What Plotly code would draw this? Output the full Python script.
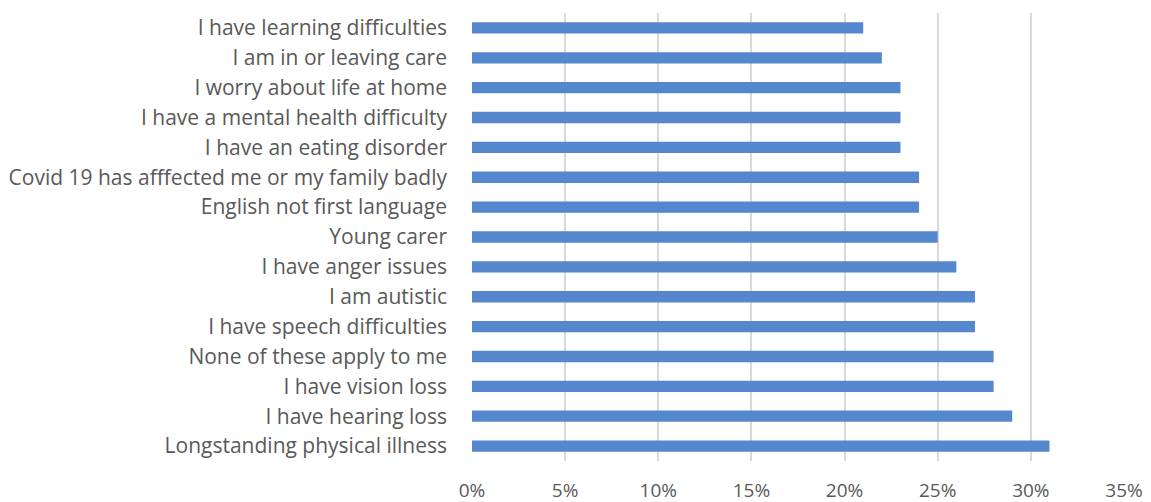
import plotly.graph_objects as go

# Survey responses, listed top to bottom as displayed
categories = [
    "I have learning difficulties",
    "I am in or leaving care",
    "I worry about life at home",
    "I have a mental health difficulty",
    "I have an eating disorder",
    "Covid 19 has afffected me or my family badly",
    "English not first language",
    "Young carer",
    "I have anger issues",
    "I am autistic",
    "I have speech difficulties",
    "None of these apply to me",
    "I have vision loss",
    "I have hearing loss",
    "Longstanding physical illness",
]
shares = [0.21, 0.22, 0.23, 0.23, 0.23, 0.24, 0.24, 0.25, 0.26, 0.27, 0.27, 0.28, 0.28, 0.29, 0.31]

tick_values = [0, 0.05, 0.10, 0.15, 0.20, 0.25, 0.30, 0.35]
tick_labels = ["0%", "5%", "10%", "15%", "20%", "25%", "30%", "35%"]

text_color = "#595959"
font_family = "Open Sans, Noto Sans, sans-serif"

fig = go.Figure(
    go.Bar(
        x=shares,
        y=categories,
        orientation="h",
        marker=dict(color="#5587cf", line=dict(width=0)),
        hoverinfo="x+y",
    )
)

fig.update_layout(
    width=1151,
    height=502,
    margin=dict(l=472, r=27, t=13, b=41, autoexpand=False),
    paper_bgcolor="white",
    plot_bgcolor="white",
    bargap=0.62,
    showlegend=False,
    font=dict(family=font_family, size=19, color=text_color),
)

fig.update_xaxes(
    range=[0, 0.35],
    tickvals=tick_values,
    ticktext=tick_labels,
    showgrid=True,
    gridcolor="#d9d9d9",
    gridwidth=2,
    zeroline=False,
    showline=False,
    ticks="",
    automargin=False,
    ticklabelstandoff=16,
    tickfont=dict(family=font_family, size=19, color=text_color),
)

fig.update_yaxes(
    autorange="reversed",
    showgrid=False,
    zeroline=False,
    showline=False,
    ticks="",
    automargin=False,
    ticklabelstandoff=24,
    tickfont=dict(family=font_family, size=21, color=text_color),
)

fig.write_html("out.html")
